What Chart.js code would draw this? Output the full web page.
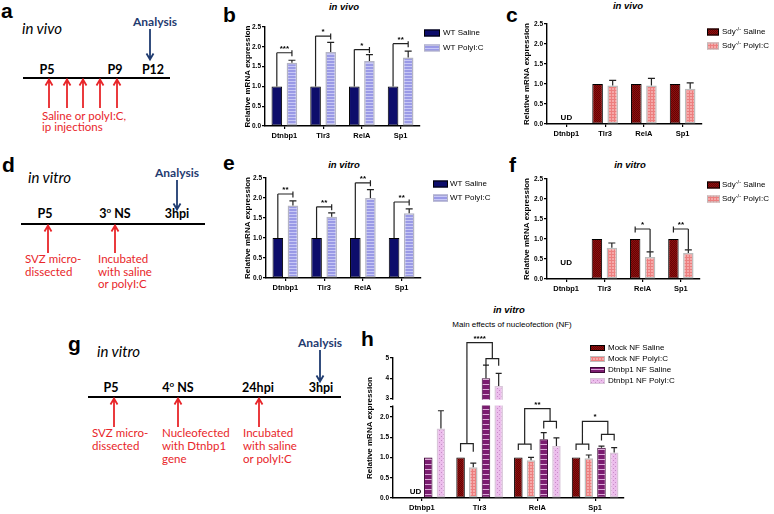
<!DOCTYPE html>
<html><head><meta charset="utf-8">
<script src="https://cdn.jsdelivr.net/npm/chart.js"></script>
<style>
html,body{margin:0;padding:0;background:#fff}
body{width:774px;height:514px;position:relative;overflow:hidden}
canvas{position:absolute}
svg{position:absolute;left:0;top:0}
</style></head><body>
<svg width="774" height="514" font-family="Lato, 'Open Sans', sans-serif">
<g font-family="Arial, 'Liberation Sans', sans-serif" font-weight="bold" font-size="21" fill="#000">
<text x="1" y="18">a</text><text x="223" y="22">b</text><text x="506" y="22">c</text>
<text x="2" y="172">d</text><text x="223" y="170">e</text><text x="509" y="172">f</text>
<text x="68" y="351">g</text><text x="361" y="346">h</text>
</g>
<g font-family="Arial, 'Liberation Sans', sans-serif" font-weight="bold" font-style="italic" font-size="9.5" text-anchor="middle">
<text x="344" y="10">in vivo</text><text x="628" y="9">in vivo</text>
<text x="344" y="168">in vitro</text><text x="630" y="168">in vitro</text>
<text x="509" y="313">in vitro</text>
</g>
<text x="512" y="327" font-family="Arial, 'Liberation Sans', sans-serif" font-size="8" text-anchor="middle">Main effects of nucleofection (NF)</text>

<!-- a -->
<text x="22" y="34" font-style="italic" font-size="15">in vivo</text>
<text x="155" y="26" fill="#1f3b70" font-weight="bold" font-size="12" text-anchor="middle">Analysis</text>
<path d="M150 29V59M146.5 53.5L150 59.5L153.5 53.5" stroke="#1f3b70" stroke-width="1.8" fill="none"/>
<g font-weight="bold" font-size="12.5" text-anchor="middle"><text x="47" y="74">P5</text><text x="115" y="74">P9</text><text x="153" y="74">P12</text></g>
<line x1="23" y1="78" x2="170" y2="78" stroke="#000" stroke-width="2"/>
<g stroke="#e8262a" stroke-width="1.8" fill="none">
<path d="M49 108V80M45.5 85.5L49 79.5L52.5 85.5"/>
<path d="M67 108V80M63.5 85.5L67 79.5L70.5 85.5"/>
<path d="M83 108V80M79.5 85.5L83 79.5L86.5 85.5"/>
<path d="M100 108V80M96.5 85.5L100 79.5L103.5 85.5"/>
<path d="M117 108V80M113.5 85.5L117 79.5L120.5 85.5"/>
</g>
<g fill="#e8262a" font-size="11.5"><text x="42" y="120">Saline or polyI:C,</text><text x="42" y="131">ip injections</text></g>

<!-- d -->
<text x="28" y="183" font-style="italic" font-size="15">in vitro</text>
<text x="177" y="177" fill="#1f3b70" font-weight="bold" font-size="12" text-anchor="middle">Analysis</text>
<path d="M177 180V209M173.5 203.5L177 209.5L180.5 203.5" stroke="#1f3b70" stroke-width="1.8" fill="none"/>
<g font-weight="bold" font-size="12.5" text-anchor="middle"><text x="45" y="218">P5</text><text x="115" y="218">3<tspan font-size="8" dy="-5">o</tspan><tspan dy="5"> NS</tspan></text><text x="177" y="218">3hpi</text></g>
<line x1="21" y1="224" x2="205" y2="224" stroke="#000" stroke-width="2"/>
<g stroke="#e8262a" stroke-width="1.8" fill="none">
<path d="M48 253V226M44.5 231.5L48 225.5L51.5 231.5"/>
<path d="M115 253V226M111.5 231.5L115 225.5L118.5 231.5"/>
</g>
<g fill="#e8262a" font-size="11.5">
<text x="25" y="263">SVZ micro-</text><text x="25" y="276">dissected</text>
<text x="98" y="263">Incubated</text><text x="98" y="276">with saline</text><text x="98" y="288">or polyI:C</text>
</g>

<!-- g -->
<text x="97" y="357" font-style="italic" font-size="15">in vitro</text>
<text x="320" y="347" fill="#1f3b70" font-weight="bold" font-size="12" text-anchor="middle">Analysis</text>
<path d="M320 350V381M316.5 375.5L320 381.5L323.5 375.5" stroke="#1f3b70" stroke-width="1.8" fill="none"/>
<g font-weight="bold" font-size="12.5" text-anchor="middle"><text x="111" y="392">P5</text><text x="178" y="392">4<tspan font-size="8" dy="-5">o</tspan><tspan dy="5"> NS</tspan></text><text x="258" y="392">24hpi</text><text x="321" y="392">3hpi</text></g>
<line x1="88" y1="397" x2="341" y2="397" stroke="#000" stroke-width="2"/>
<g stroke="#e8262a" stroke-width="1.8" fill="none">
<path d="M114 427V399M110.5 404.5L114 398.5L117.5 404.5"/>
<path d="M178 427V399M174.5 404.5L178 398.5L181.5 404.5"/>
<path d="M259 427V399M255.5 404.5L259 398.5L262.5 404.5"/>
</g>
<g fill="#e8262a" font-size="11.5">
<text x="92" y="437">SVZ micro-</text><text x="92" y="450">dissected</text>
<text x="162" y="437">Nucleofected</text><text x="162" y="450">with Dtnbp1</text><text x="162" y="463">gene</text>
<text x="243" y="437">Incubated</text><text x="243" y="450">with saline</text><text x="243" y="463">or polyI:C</text>
</g>
</svg>
<canvas id="cb"></canvas><canvas id="cc"></canvas><canvas id="ce"></canvas><canvas id="cf"></canvas><canvas id="ch"></canvas>
<script>
// ---------------- data ----------------
const genes = ['Dtnbp1', 'Tlr3', 'RelA', 'Sp1'];
const yTitle = 'Relative mRNA expression';

// b: in vivo, WT
const bLabels = ['WT Saline', 'WT PolyI:C'];
const bSaline = [1, 1, 1, 1];
const bPoly = [1.60, 1.87, 1.64, 1.73];
const bPolyErr = [1.66, 2.11, 1.80, 1.89];
const bSigH = [1.85, 2.27, 1.93, 2.08];
const bSigStars = ['***', '*', '*', '**'];

// c: in vivo, Sdy-/-
const cLabels = ['Sdy-/- Saline', 'Sdy-/- PolyI:C'];
const cSaline = [null, 1, 1, 1];
const cPoly = [null, 0.96, 0.96, 0.88];
const cPolyErr = [null, 1.09, 1.14, 1.03];

// e: in vitro, WT
const eLabels = ['WT Saline', 'WT PolyI:C'];
const eSaline = [1, 1, 1, 1];
const ePoly = [1.81, 1.53, 2.00, 1.62];
const ePolyErr = [1.93, 1.63, 2.21, 1.73];
const eSigH = [2.10, 1.78, 2.38, 1.90];
const eSigStars = ['**', '**', '**', '**'];

// f: in vitro, Sdy-/-
const fLabels = ['Sdy-/- Saline', 'Sdy-/- PolyI:C'];
const fSaline = [null, 1, 1, 1];
const fPoly = [null, 0.78, 0.55, 0.65];
const fPolyErr = [null, 0.90, 0.68, 0.73];
const fSigH = [null, null, 1.25, 1.25];
const fSigStars = [null, null, '*', '**'];

// h: nucleofection
const hLabels = ['Mock NF Saline', 'Mock NF PolyI:C', 'Dtnbp1 NF Saline', 'Dtnbp1 NF PolyI:C'];
const hMockSaline = [null, 1, 1, 1];
const hMockPoly = [null, 0.76, 0.93, 0.98];
const hMockPolyErr = [null, 0.86, 1.00, 1.06];
const hNFSaline = [1, 4.00, 1.45, 1.24];
const hNFSalineErr = [null, 4.65, 1.61, 1.28];
const hNFPoly = [1.71, 3.62, 1.28, 1.12];
const hNFPolyErr = [2.15, 4.24, 1.48, 1.24];
const hMockBr = [null, 1.34, 1.33, 1.33];
const hMockBrEnd = [null, 1.14, 1.18, 1.18];
const hNFBr = [null, 4.97, 1.89, 1.57];
const hNFBrEnd = [null, 4.62, 1.71, 1.42];
const hTopBr = [null, 5.76, 2.20, 1.89];
const hStars = [null, '****', '**', '*'];
const hTickVals = [0, 0.5, 1, 1.5, 2, 2.25, 3, 4, 5];
const hTickLabels = ['0.0', '0.5', '1.0', '1.5', '2.0', '', '3', '4', '5'];
const hBreak = [2.25, 3];

// broken axis mapping for panel h (lower segment 0-2.25, upper 3-5 at half scale)
function tr(v) {
  if (v == null) return null;
  if (v <= 2.25) return v;
  if (v < 3) return 2.25 + (v - 2.25) * (0.2 / 0.75);
  return 2.45 + (v - 3) * 0.5;
}

// ---------------- styles ----------------
const FONT = "Arial, 'Liberation Sans', Helvetica, sans-serif";
Chart.defaults.font.family = FONT;
Chart.defaults.color = '#000';
Chart.defaults.animation = false;

function mkPat(size, bg, fn) {
  const c = document.createElement('canvas'); c.width = c.height = size;
  const x = c.getContext('2d'); x.fillStyle = bg; x.fillRect(0, 0, size, size); fn(x);
  return x.createPattern(c, 'repeat');
}
const C = {
  wtSaline: '#0d0d6b',
  wtPoly: mkPat(3, '#9a9ae6', x => { x.fillStyle = '#c8c8f6'; x.fillRect(0, 0, 3, 1); }),
  sdySaline: mkPat(2, '#8e0f0f', x => { x.fillStyle = '#650404'; x.fillRect(0, 0, 1, 1); x.fillRect(1, 1, 1, 1); }),
  sdyPoly: mkPat(3, '#f6a9a9', x => { x.fillStyle = '#ec7f7f'; x.fillRect(0, 0, 3, 1); x.fillRect(0, 0, 1, 3); }),
  nfSaline: mkPat(5, '#7b1c70', x => { x.fillStyle = '#dcaad8'; x.fillRect(0, 0, 5, 1); }),
  nfPoly: mkPat(4, '#ecbeec', x => { x.fillStyle = '#c88cc8'; x.fillRect(0, 0, 1, 1); x.fillRect(2, 2, 1, 1); })
};

function drawLabel(ctx, s, x, y) {
  ctx.fillStyle = '#000'; ctx.textAlign = 'left'; ctx.textBaseline = 'middle';
  const parts = s.split('-/-');
  ctx.font = '8px ' + FONT; ctx.fillText(parts[0], x, y);
  let w = ctx.measureText(parts[0]).width;
  if (parts.length > 1) {
    ctx.font = '5.5px ' + FONT; ctx.fillText('-/-', x + w, y - 2.5);
    w += ctx.measureText('-/-').width;
    ctx.font = '8px ' + FONT; ctx.fillText(parts[1], x + w, y);
  }
}

function makeExtras(cfg) {
  return {
    id: 'extras',
    afterDatasetsDraw(chart) {
      const ctx = chart.ctx, ys = chart.scales.y, ca = chart.chartArea;
      const px = v => ys.getPixelForValue(v);
      const bx = (i, j) => chart.getDatasetMeta(i).data[j].x;
      ctx.save();
      if (cfg.brk) {
        const top = px(cfg.brk[1]) + 1.2, bot = px(cfg.brk[0]) - 1.2;
        ctx.fillStyle = '#fff';
        ctx.fillRect(ca.left - 3, top, ca.right - ca.left + 3, bot - top);
      }
      ctx.strokeStyle = '#222'; ctx.lineWidth = 1.2;
      chart.data.datasets.forEach((ds, i) => {
        if (!ds.err) return;
        const meta = chart.getDatasetMeta(i);
        ds.err.forEach((e, j) => {
          if (e == null) return;
          const el = meta.data[j], ye = px(e);
          ctx.beginPath(); ctx.moveTo(el.x, el.y); ctx.lineTo(el.x, ye);
          ctx.moveTo(el.x - cfg.cap, ye); ctx.lineTo(el.x + cfg.cap, ye); ctx.stroke();
        });
      });
      ctx.font = 'bold 8px ' + FONT; ctx.textAlign = 'center'; ctx.textBaseline = 'alphabetic'; ctx.fillStyle = '#000';
      (cfg.pairs || []).forEach(p => {
        if (p.h == null) return;
        const xa = bx(p.a, p.cat), xb = bx(p.b, p.cat), yh = px(p.h);
        ctx.beginPath();
        if (p.legA != null) { ctx.moveTo(xa, px(p.legA)); ctx.lineTo(xa, yh); } else { ctx.moveTo(xa, yh - 2.5); ctx.lineTo(xa, yh + 3.5); }
        ctx.moveTo(xa, yh); ctx.lineTo(xb, yh);
        if (p.legB != null) { ctx.moveTo(xb, yh); ctx.lineTo(xb, px(p.legB)); } else { ctx.moveTo(xb, yh - 2.5); ctx.lineTo(xb, yh + 3.5); }
        ctx.stroke();
        ctx.fillText(p.s, (xa + xb) / 2, yh - 2);
      });
      (cfg.groups || []).forEach(g => {
        if (g.th == null) return;
        const x0 = bx(0, g.cat), x1 = bx(1, g.cat), x2 = bx(2, g.cat), x3 = bx(3, g.cat);
        const xm = (x0 + x1) / 2, xn = (x2 + x3) / 2;
        ctx.beginPath();
        ctx.moveTo(x0, px(g.me)); ctx.lineTo(x0, px(g.mh)); ctx.lineTo(x1, px(g.mh)); ctx.lineTo(x1, px(g.me));
        ctx.moveTo(x2, px(g.ne)); ctx.lineTo(x2, px(g.nh)); ctx.lineTo(x3, px(g.nh)); ctx.lineTo(x3, px(g.ne));
        ctx.moveTo(xm, px(g.mh)); ctx.lineTo(xm, px(g.th)); ctx.lineTo(xn, px(g.th)); ctx.lineTo(xn, px(g.nh));
        ctx.stroke();
        ctx.fillText(g.s, (xm + xn) / 2, px(g.th) - 2);
      });
      if (cfg.ud) {
        ctx.font = 'bold 8px ' + FONT; ctx.textBaseline = 'middle'; ctx.textAlign = 'center';
        const xs = cfg.ud.ds.map(i => bx(i, cfg.ud.cat));
        ctx.fillText('UD', xs.reduce((a, b) => a + b, 0) / xs.length, px(cfg.ud.v));
      }
      const L = cfg.legend;
      if (L) {
        chart.data.datasets.forEach((ds, i) => {
          const cy = L.y - cfg.oy + i * L.dy, x = L.x - cfg.ox;
          ctx.fillStyle = ds.backgroundColor; ctx.fillRect(x, cy - L.bh / 2, L.bw, L.bh);
          ctx.strokeStyle = ds.borderColor; ctx.lineWidth = 1;
          ctx.strokeRect(x + 0.5, cy - L.bh / 2 + 0.5, L.bw - 1, L.bh - 1);
          drawLabel(ctx, ds.label, L.tx - cfg.ox, cy);
        });
      }
      ctx.restore();
    }
  };
}

function yAxis(max, step) {
  return {
    min: 0, max: max,
    ticks: { stepSize: step, font: { size: 6.5, weight: 'bold' }, padding: 1, color: '#000', callback: v => v.toFixed(1) },
    grid: { drawOnChartArea: false, drawTicks: true, tickLength: 3, color: '#000', lineWidth: 1.2 },
    border: { display: true, color: '#000', width: 1.4 },
    title: { display: true, text: yTitle, font: { size: 8, weight: 'bold' }, padding: { top: 2, bottom: 0 }, color: '#000' }
  };
}
function xAxis() {
  return {
    type: 'category', offset: true,
    grid: { offset: false, drawOnChartArea: false, drawTicks: true, tickLength: 3, color: '#000', lineWidth: 1.2 },
    border: { display: true, color: '#000', width: 1.4 },
    ticks: { font: { size: 7.5, weight: 'bold' }, padding: 2, color: '#000', maxRotation: 0, autoSkip: false }
  };
}

function build(id, A, datasets, y, extra) {
  const padL = 2, padB = 2;
  const left = A.l - A.yw - padL, top = A.t - A.pt;
  const W = A.r + A.pr - left, H = A.b + A.xh + padB - top;
  const cv = document.getElementById(id);
  cv.width = W; cv.height = H;
  Object.assign(cv.style, { left: left + 'px', top: top + 'px', width: W + 'px', height: H + 'px' });
  y.afterFit = s => { s.width = A.yw; };
  const x = xAxis(); x.afterFit = s => { s.height = A.xh; };
  extra.ox = left; extra.oy = top;
  return new Chart(cv, {
    type: 'bar',
    data: { labels: genes, datasets },
    options: {
      responsive: false, animation: false, devicePixelRatio: 1,
      layout: { padding: { left: padL, top: A.pt, right: A.pr, bottom: padB } },
      datasets: { bar: { categoryPercentage: A.cp, barPercentage: A.bp, borderSkipped: false } },
      scales: { x, y },
      plugins: { legend: { display: false }, tooltip: { enabled: false }, title: { display: false } }
    },
    plugins: [makeExtras(extra)]
  });
}

const pairSet = (sal, polyErr, H, S, leftLeg) => genes.map((g, j) => ({
  cat: j, a: 0, b: 1, h: H[j], s: S[j],
  legA: leftLeg ? sal[j] : null, legB: leftLeg ? null : (polyErr[j] == null ? null : polyErr[j])
}));

// b
build('cb', { l: 265, t: 27, r: 420, b: 126, yw: 24, xh: 16, pt: 12, pr: 78, cp: 0.78, bp: 0.7 }, [
  { label: bLabels[0], data: bSaline, backgroundColor: C.wtSaline, borderColor: '#000', borderWidth: 1 },
  { label: bLabels[1], data: bPoly, err: bPolyErr, backgroundColor: C.wtPoly, borderColor: '#b4b4c4', borderWidth: 1.5 }
], yAxis(2.5, 0.5), { cap: 3.5, pairs: pairSet(bSaline, bPolyErr, bSigH, bSigStars, true),
  legend: { x: 424, y: 33, dy: 15, bw: 16, bh: 7, tx: 443 } });

// c
build('cc', { l: 547, t: 24, r: 702, b: 124, yw: 27, xh: 16, pt: 12, pr: 72, cp: 0.78, bp: 0.7 }, [
  { label: cLabels[0], data: cSaline, backgroundColor: C.sdySaline, borderColor: '#000', borderWidth: 1 },
  { label: cLabels[1], data: cPoly, err: cPolyErr, backgroundColor: C.sdyPoly, borderColor: '#bdbdbd', borderWidth: 1.5 }
], yAxis(2.5, 0.5), { cap: 3.5, ud: { cat: 0, ds: [0, 1], v: 0.15 },
  legend: { x: 707, y: 32, dy: 14, bw: 12, bh: 7, tx: 722 } });

// e
build('ce', { l: 266, t: 178, r: 421, b: 278, yw: 25, xh: 16, pt: 12, pr: 78, cp: 0.78, bp: 0.7 }, [
  { label: eLabels[0], data: eSaline, backgroundColor: C.wtSaline, borderColor: '#000', borderWidth: 1 },
  { label: eLabels[1], data: ePoly, err: ePolyErr, backgroundColor: C.wtPoly, borderColor: '#b4b4c4', borderWidth: 1.5 }
], yAxis(2.5, 0.5), { cap: 3.5, pairs: pairSet(eSaline, ePolyErr, eSigH, eSigStars, true),
  legend: { x: 433, y: 184, dy: 14, bw: 15, bh: 7, tx: 450 } });

// f
build('cf', { l: 547, t: 179, r: 700, b: 279, yw: 27, xh: 16, pt: 12, pr: 74, cp: 0.78, bp: 0.7 }, [
  { label: fLabels[0], data: fSaline, backgroundColor: C.sdySaline, borderColor: '#000', borderWidth: 1 },
  { label: fLabels[1], data: fPoly, err: fPolyErr, backgroundColor: C.sdyPoly, borderColor: '#bdbdbd', borderWidth: 1.5 }
], yAxis(2.5, 0.5), { cap: 3.5, ud: { cat: 0, ds: [0, 1], v: 0.4 },
  pairs: pairSet(fSaline, fPolyErr, fSigH, fSigStars, false),
  legend: { x: 707, y: 185, dy: 14, bw: 13, bh: 7, tx: 722 } });

// h
const hY = yAxis(tr(5), 0.5);
hY.afterBuildTicks = s => { s.ticks = hTickVals.map(v => ({ value: tr(v) })); };
hY.ticks.callback = (v, i) => hTickLabels[i];
build('ch', { l: 393, t: 358, r: 624, b: 498, yw: 30, xh: 15, pt: 34, pr: 62, cp: 0.88, bp: 0.67 }, [
  { label: hLabels[0], data: hMockSaline.map(tr), backgroundColor: C.sdySaline, borderColor: '#000', borderWidth: 1 },
  { label: hLabels[1], data: hMockPoly.map(tr), err: hMockPolyErr.map(tr), backgroundColor: C.sdyPoly, borderColor: '#bdbdbd', borderWidth: 1.5 },
  { label: hLabels[2], data: hNFSaline.map(tr), err: hNFSalineErr.map(tr), backgroundColor: C.nfSaline, borderColor: '#3c0a36', borderWidth: 1 },
  { label: hLabels[3], data: hNFPoly.map(tr), err: hNFPolyErr.map(tr), backgroundColor: C.nfPoly, borderColor: '#d9c6d9', borderWidth: 1.5 }
], hY, { cap: 3, brk: hBreak.map(tr), ud: { cat: 0, ds: [1], v: 0.15 },
  groups: genes.map((g, j) => ({ cat: j, mh: tr(hMockBr[j]), me: tr(hMockBrEnd[j]), nh: tr(hNFBr[j]), ne: tr(hNFBrEnd[j]), th: tr(hTopBr[j]), s: hStars[j] })),
  legend: { x: 590, y: 348, dy: 11, bw: 15, bh: 6, tx: 608 } });
</script>
</body></html>
